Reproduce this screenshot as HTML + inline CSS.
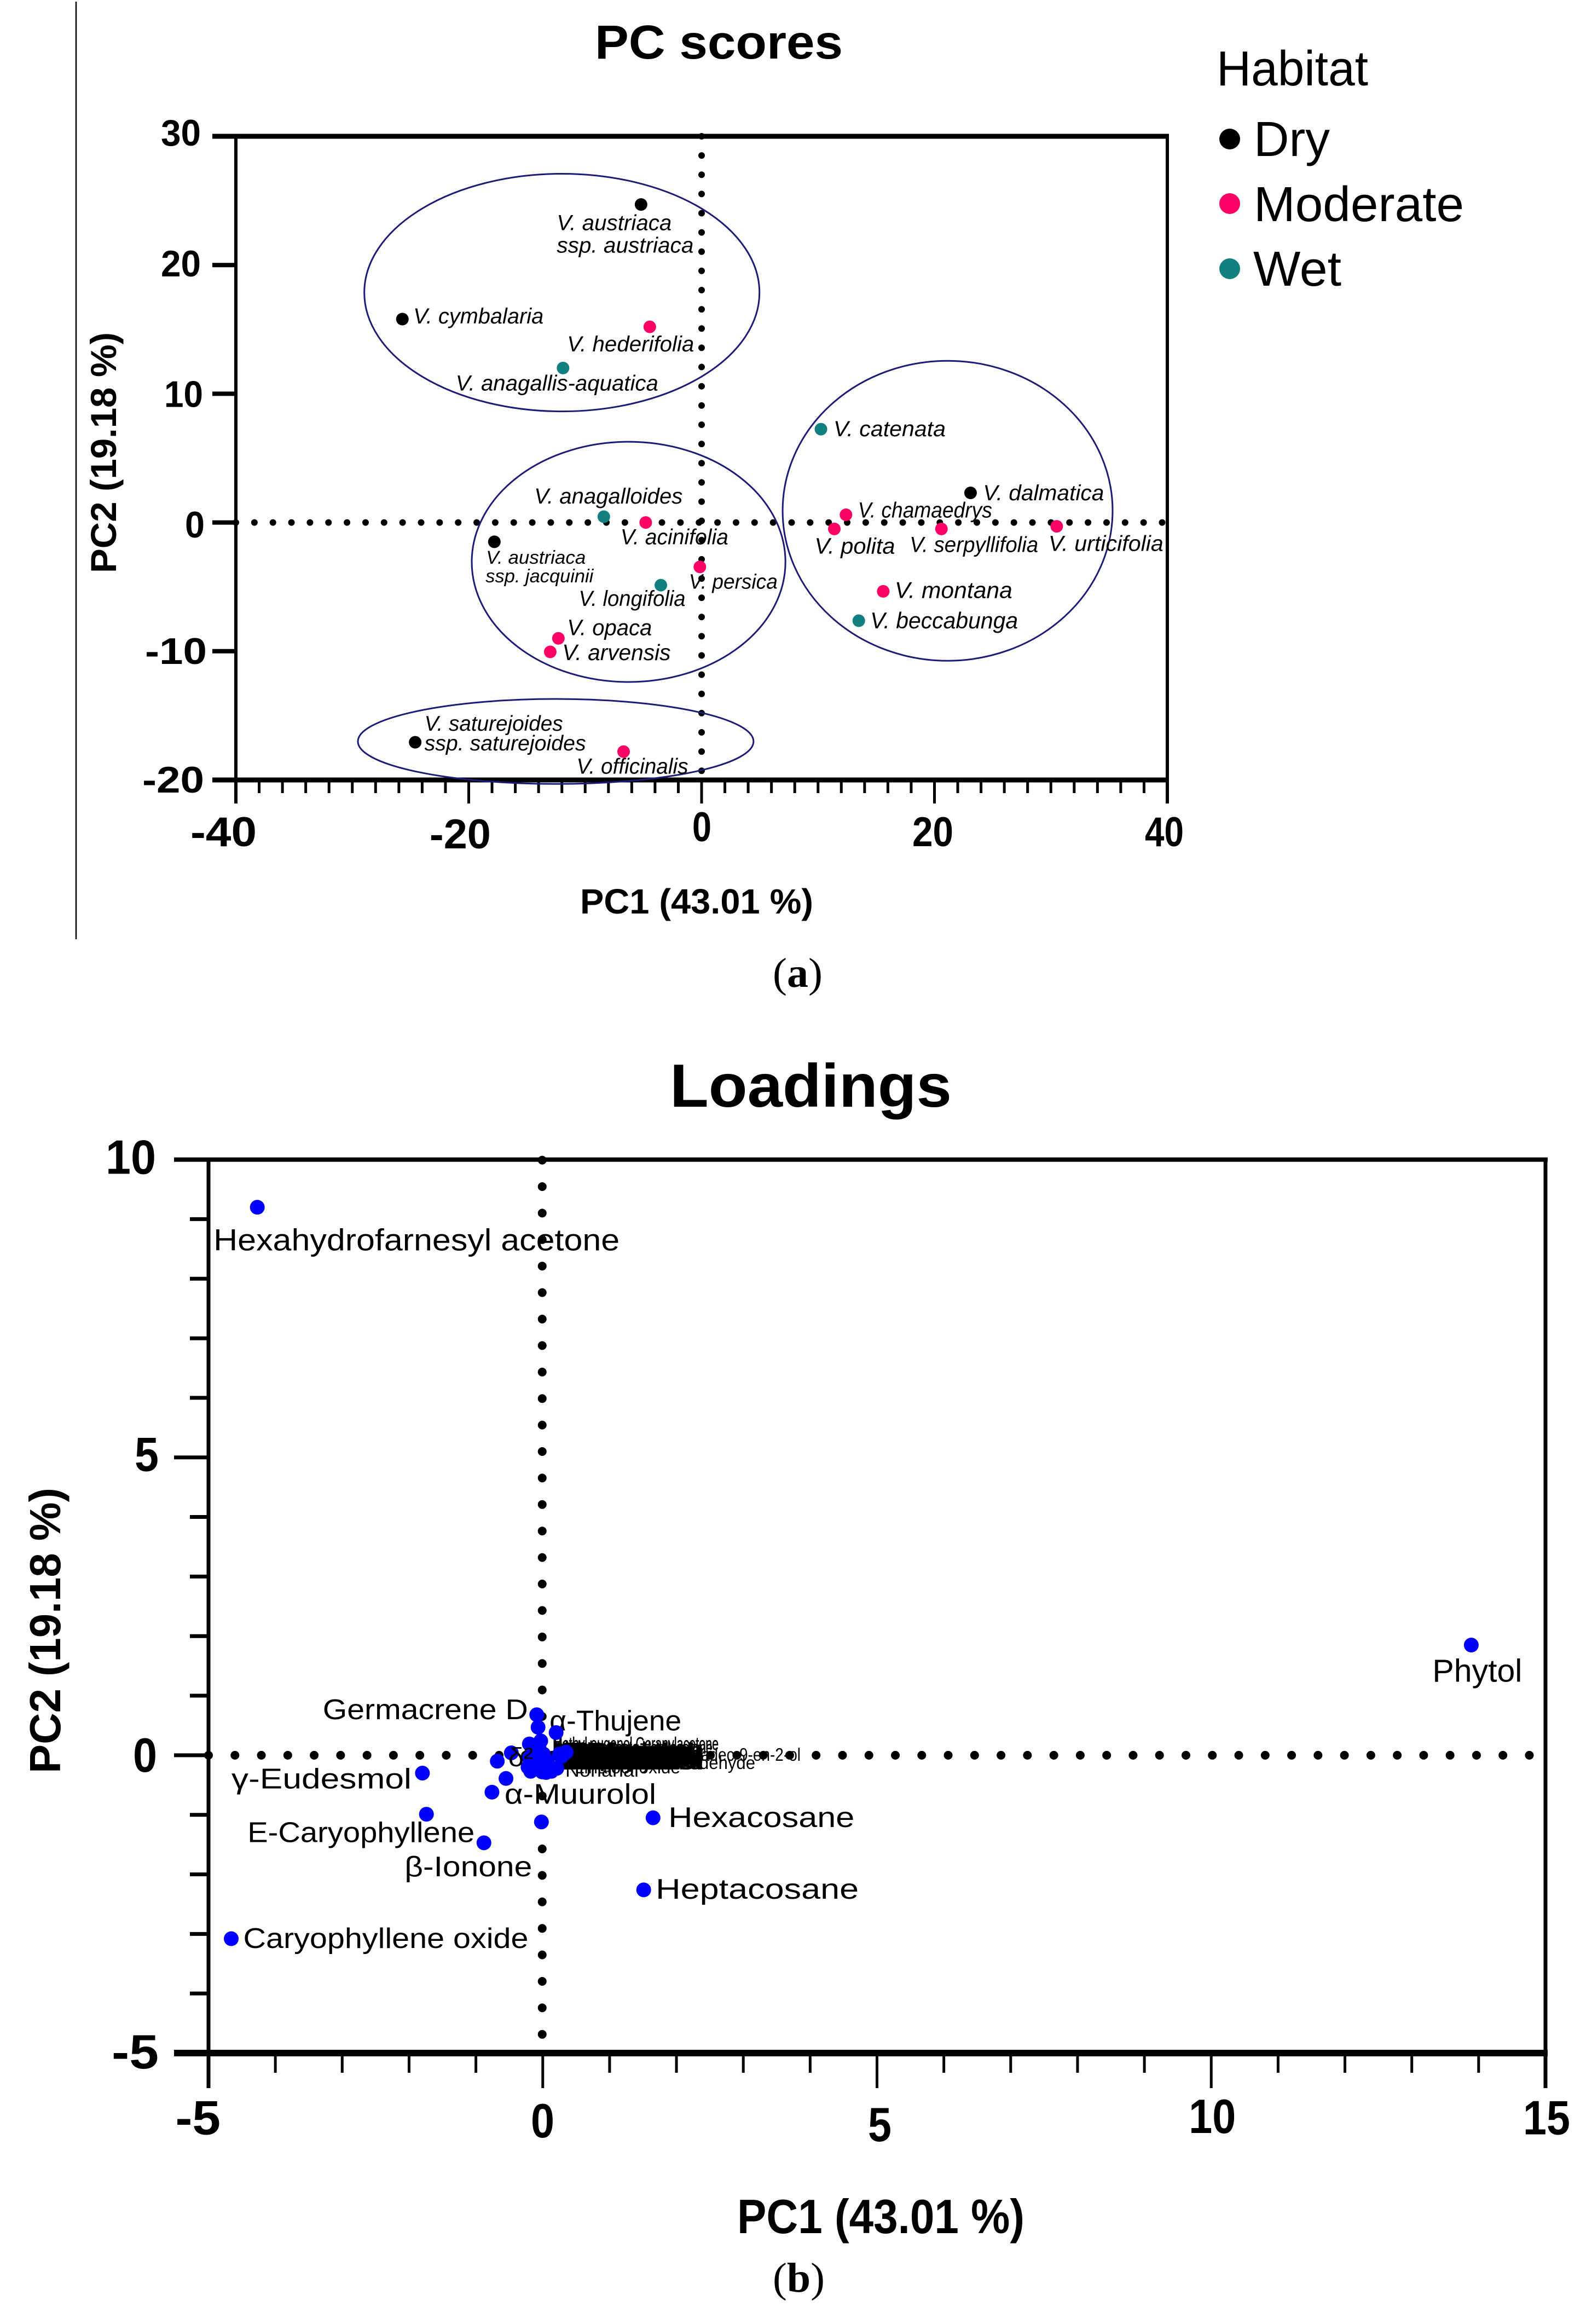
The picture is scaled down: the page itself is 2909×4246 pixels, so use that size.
<!DOCTYPE html>
<html lang="en">
<head>
<meta charset="utf-8">
<title>PC scores and loadings</title>
<style>
html,body{margin:0;padding:0;background:#fff;}
svg{display:block;}
text{font-family:"Liberation Sans",sans-serif;fill:#000;}
.serif{font-family:"Liberation Serif",serif;}
</style>
</head>
<body>
<svg id="figure" xmlns="http://www.w3.org/2000/svg" width="2909" height="4246" viewBox="0 0 2909 4246">
<rect x="0" y="0" width="2909" height="4246" fill="#fff"/>
<line x1="139" y1="3" x2="139" y2="1716" stroke="#000" stroke-width="2.5"/>

<g id="panel-a">
<text x="1087" y="107" font-size="87" font-weight="700" textLength="453" lengthAdjust="spacingAndGlyphs">PC scores</text>
<text x="1060" y="1669" font-size="64" font-weight="700" textLength="426" lengthAdjust="spacingAndGlyphs">PC1 (43.01 %)</text>
<text transform="translate(212 1047) rotate(-90)" x="0" y="0" font-size="66" font-weight="700" textLength="440" lengthAdjust="spacingAndGlyphs">PC2 (19.18 %)</text>
<g>
<text x="2223" y="156" font-size="90" textLength="277" lengthAdjust="spacingAndGlyphs">Habitat</text>
<circle cx="2247" cy="254" r="19" fill="#000"/>
<text x="2291" y="285" font-size="90" textLength="139" lengthAdjust="spacingAndGlyphs">Dry</text>
<circle cx="2247" cy="372" r="19" fill="#ff0066"/>
<text x="2291" y="404" font-size="90" textLength="384" lengthAdjust="spacingAndGlyphs">Moderate</text>
<circle cx="2247" cy="491" r="19" fill="#128080"/>
<text x="2290" y="522" font-size="90" textLength="161" lengthAdjust="spacingAndGlyphs">Wet</text>
</g>
<text class="serif" x="1412" y="1803" font-size="76" textLength="91" lengthAdjust="spacingAndGlyphs">(<tspan font-weight="700">a</tspan>)</text>
</g>

<g id="panel-b">
<text x="1224" y="2022" font-size="111" font-weight="700" textLength="515" lengthAdjust="spacingAndGlyphs">Loadings</text>
<text x="1347" y="4080" font-size="88" font-weight="700" textLength="525" lengthAdjust="spacingAndGlyphs">PC1 (43.01 %)</text>
<text transform="translate(110 3240) rotate(-90)" x="0" y="0" font-size="80" font-weight="700" textLength="522" lengthAdjust="spacingAndGlyphs">PC2 (19.18 %)</text>
<text class="serif" x="1412" y="4187" font-size="76" textLength="95" lengthAdjust="spacingAndGlyphs">(<tspan font-weight="700">b</tspan>)</text>
</g>
</svg>

<script>
// ---------- Panel (a) data ----------
const scoreXTicks = [-40, -20, 0, 20, 40];
const scoreXTickLabels = ['-40', '-20', '0', '20', '40'];
const scoreYTicks = [30, 20, 10, 0, -10, -20];
const scoreYTickLabels = ['30', '20', '10', '0', '-10', '-20'];
const speciesNames = ['V. austriaca ssp. austriaca', 'V. cymbalaria', 'V. hederifolia', 'V. anagallis-aquatica', 'V. catenata', 'V. dalmatica', 'V. chamaedrys', 'V. polita', 'V. serpyllifolia', 'V. urticifolia', 'V. anagalloides', 'V. acinifolia', 'V. austriaca ssp. jacquinii', 'V. persica', 'V. longifolia', 'V. opaca', 'V. arvensis', 'V. montana', 'V. beccabunga', 'V. saturejoides ssp. saturejoides', 'V. officinalis'];
const speciesPC1 = [-5.2, -25.7, -4.45, -11.9, 10.25, 23.1, 12.4, 11.4, 20.6, 30.5, -8.4, -4.8, -17.8, -0.15, -3.5, -12.3, -13, 15.6, 13.5, -24.6, -6.7];
const speciesPC2 = [24.7, 15.8, 15.2, 12, 7.25, 2.3, 0.6, -0.5, -0.5, -0.3, 0.45, 0, -1.5, -3.45, -4.87, -9, -10.05, -5.35, -7.63, -17.07, -17.8];
const speciesHabitat = ['Dry', 'Dry', 'Moderate', 'Wet', 'Wet', 'Dry', 'Moderate', 'Moderate', 'Moderate', 'Moderate', 'Wet', 'Moderate', 'Dry', 'Moderate', 'Wet', 'Moderate', 'Moderate', 'Moderate', 'Wet', 'Dry', 'Moderate'];
const clusterCenterPC1 = [-12, -6.27, 21.13, -12.53];
const clusterCenterPC2 = [17.86, -3.06, 0.91, -17.01];
const clusterRadiusPC1 = [16.97, 13.47, 14.17, 16.99];
const clusterRadiusPC2 = [9.23, 9.33, 11.65, 3.3];

// ---------- Panel (b) data ----------
const loadingXTicks = [-5, 0, 5, 10, 15];
const loadingXTickLabels = ['-5', '0', '5', '10', '15'];
const loadingYTicks = [10, 5, 0, -5];
const loadingYTickLabels = ['10', '5', '0', '-5'];
const namedCompounds = ['Hexahydrofarnesyl acetone', 'Phytol', 'Germacrene D', 'α-Thujene', 'γ-Eudesmol', 'α-Muurolol', 'E-Caryophyllene', 'β-Ionone', 'Hexacosane', 'Heptacosane', 'Caryophyllene oxide'];
const namedPC1 = [-4.27, 13.89, -0.09, 0.2, -1.8, -0.76, -1.74, -0.88, 1.65, 1.51, -4.66];
const namedPC2 = [9.2, 1.85, 0.68, 0.38, -0.3, -0.62, -0.99, -1.47, -1.05, -2.26, -3.08];
const unnamedPC1 = [-0.07, -0.2, -0.47, -0.68, -0.55, -0.02, 0.31, -0.06, -0.13, 0.01, -0.16, -0.03, -0.18, -0.01, 0.13, 0.21, 0.25, 0.35, -0.03, -0.1, -0.04, -0.12, 0.04, 0.07, 0.28, -0.2, -0.22, -0.05, -0.14, 0.05];
const unnamedPC2 = [0.47, 0.19, 0.04, -0.1, -0.39, -1.12, 0.03, 0.14, 0.02, 0.02, -0.13, -0.13, -0.27, -0.28, -0.27, -0.22, 0.02, 0.05, 0.24, 0.08, -0.05, -0.2, -0.2, -0.1, -0.02, -0.05, -0.2, 0.1, 0.12, -0.29];
// Placeholder names: the reference's overlapping labels here are illegible
const crowdedCompounds = ['Methyl eugenol', 'Geranylacetone', 'Linalool oxide', 'Benzaldehyde', 'Terpinen-4-ol', 'α-Terpineol', 'Carvacrol', 'Thymol', 'Eugenol', 'Limonene', 'Myrcene', 'Sabinene', 'Camphene', 'α-Pinene', 'β-Pinene', 'Linalool', 'p-Cymene', 'Spathulenol', 'Viridiflorol', 'δ-Cadinene', 'γ-Cadinene', 'α-Humulene', 'β-Bourbonene', 'α-Copaene', 'α-Cubebene', 'Bicyclogermacrene', 'Octanal', 'Decanal', 'Heptanal', 'Hexanal', 'Pentadecanal', 'Tricosane', 'Pentacosane', 'Nonacosane', 'Docosane', 'Tetracosane', 'Safranal', 'Cuminaldehyde', 'Farnesol', 'Nerolidol', 'Humulene oxide', 'Dodecanal', 'Menthone', 'Pulegone', 'Borneol', 'Elemol', 'Cedrol', 'Ledol'];

// ---------- Layout (not data) ----------
const A = {left: 431, right: 2133, top: 249, bottom: 1425, xMin: -40, xMax: 40, yMin: -20, yMax: 30};
const B = {left: 381, right: 2824, top: 2118.6, bottom: 3751, xMin: -5, xMax: 15, yMin: -5, yMax: 10};
const habitatColor = {Dry: '#000000', Moderate: '#ff0066', Wet: '#128080'};
const scoreXLabelLayout = [[-83, 121, 121], [-71.6, 112, 125], [-17, 35, 112], [-40.5, 75, 121], [-41, 71, 121]];
const scoreYLabelLayout = [[294, 73, 17], [294, 73, 21], [300, 71, 24], [338, 36, 27.5], [265, 113, 23], [260, 113, 23]];
const loadingXLabelLayout = [[-60.5, 82.5, 148.5], [-21.75, 43, 154], [-16.5, 43, 161], [-41, 86, 146], [-41, 86, 148.5]];
const loadingYLabelLayout = [[193, 92, 26], [246, 44, 25], [243, 44, 30], [204, 86, 28]];
const speciesLabelLayout = [
  [['V. austriaca', -153, 47, 210, 40], ['ssp. austriaca', -153, 88, 250, 40]],
  [['V. cymbalaria', 21, 8, 238, 40]],
  [['V. hederifolia', -150, 45, 232, 40]],
  [['V. anagallis-aquatica', -195, 41, 370, 40]],
  [['V. catenata', 24, 13, 205, 40]],
  [['V. dalmatica', 24, 13.5, 221, 40]],
  [['V. chamaedrys', 23, 5, 245, 40]],
  [['V. polita', -35, 45, 147, 41]],
  [['V. serpyllifolia', -57, 42, 235, 40]],
  [['V. urticifolia', -14, 45, 210, 40]],
  [['V. anagalloides', -126, -24, 271, 40]],
  [['V. acinifolia', -45, 40, 197, 40]],
  [['V. austriaca', -14, 40, 182, 34], ['ssp. jacquinii', -15, 74, 197, 34]],
  [['V. persica', -19, 40, 162, 38]],
  [['V. longifolia', -149, 38, 195, 40]],
  [['V. opaca', 17, -6, 155, 41]],
  [['V. arvensis', 23, 15, 198, 41]],
  [['V. montana', 22, 12, 215, 42]],
  [['V. beccabunga', 22, 14, 270, 42]],
  [['V. saturejoides', 18, -21, 253, 39], ['ssp. saturejoides', 18, 15, 295, 39]],
  [['V. officinalis', -85, 40, 204, 40]]
];
const namedLabelLayout = [[-80, 79, 742, 56], [-71, 67, 164, 58], [-391, 8, 375, 52], [-12, -4, 241, 52], [-349, 28, 329, 52], [23, 21, 277, 52], [-327, 51, 415, 52], [-145, 61, 233, 52], [28, 17, 340, 52], [22, 16, 371, 52], [22, 17, 521, 52]];

const SVGNS = 'http://www.w3.org/2000/svg';
function el(tag, attrs, parent) {
  const node = document.createElementNS(SVGNS, tag);
  for (const k in attrs) node.setAttribute(k, attrs[k]);
  parent.appendChild(node);
  return node;
}
function text(str, x, y, size, width, parent, extra) {
  const attrs = Object.assign({x: x, y: y, 'font-size': size}, extra || {});
  if (width) { attrs.textLength = width; attrs.lengthAdjust = 'spacingAndGlyphs'; }
  const node = el('text', attrs, parent);
  node.textContent = str;
  return node;
}
function scaleX(p, v) { return p.left + (v - p.xMin) / (p.xMax - p.xMin) * (p.right - p.left); }
function scaleY(p, v) { return p.bottom - (v - p.yMin) / (p.yMax - p.yMin) * (p.bottom - p.top); }

// ---------- Panel (a) ----------
const panelA = document.getElementById('panel-a');
const aAxes = el('g', {}, panelA);



for (let v = A.xMin; v <= A.xMax; v += 2) {
  const isMajor = scoreXTicks.indexOf(v) >= 0;
  const t = el('line', {x1: scaleX(A, v), x2: scaleX(A, v), y1: A.bottom, y2: A.bottom + (isMajor ? 43 : 24), stroke: '#000', 'stroke-width': 5}, aAxes);
  
  
}
scoreYTicks.forEach(function (v) {
  const t = el('line', {x1: A.left - 43, x2: A.left, y1: scaleY(A, v), y2: scaleY(A, v), stroke: '#000', 'stroke-width': 8}, aAxes);
  
  
});
const aZeroH = el('line', {x1: A.left, x2: A.right, y1: scaleY(A, 0), y2: scaleY(A, 0), stroke: '#000', 'stroke-width': 12, 'stroke-linecap': 'round', 'stroke-dasharray': '0 33.85'}, aAxes);


const aZeroV = el('line', {x1: scaleX(A, 0), x2: scaleX(A, 0), y1: A.top, y2: A.bottom, stroke: '#000', 'stroke-width': 12, 'stroke-linecap': 'round', 'stroke-dasharray': '0 35.13'}, aAxes);


const aTop = el('line', {x1: A.left - 43, x2: A.right + 3, y1: A.top, y2: A.top, stroke: '#000', 'stroke-width': 9}, aAxes);


const aBottom = el('line', {x1: A.left - 43, x2: A.right + 3, y1: A.bottom, y2: A.bottom, stroke: '#000', 'stroke-width': 9}, aAxes);


const aLeft = el('line', {x1: A.left, x2: A.left, y1: A.top, y2: A.bottom + 43, stroke: '#000', 'stroke-width': 6}, aAxes);


const aRight = el('line', {x1: A.right, x2: A.right, y1: A.top, y2: A.bottom + 43, stroke: '#000', 'stroke-width': 6}, aAxes);



scoreXTickLabels.forEach(function (s, i) {
  const l = scoreXLabelLayout[i];
  const t = text(s, scaleX(A, scoreXTicks[i]) + l[0], A.bottom + l[2], 76, l[1], aAxes, {'font-weight': 700});
  
  
});
scoreYTickLabels.forEach(function (s, i) {
  const l = scoreYLabelLayout[i];
  const t = text(s, l[0], scaleY(A, scoreYTicks[i]) + l[2], 68, l[1], aAxes, {'font-weight': 700});
  
  
});

clusterCenterPC1.forEach(function (cx, i) {
  const e = el('ellipse', {
    cx: scaleX(A, cx), cy: scaleY(A, clusterCenterPC2[i]),
    rx: scaleX(A, clusterRadiusPC1[i]) - scaleX(A, 0),
    ry: scaleY(A, 0) - scaleY(A, clusterRadiusPC2[i]),
    fill: 'none', stroke: '#1c1c78', 'stroke-width': 3
  }, panelA);
  
  
});

speciesNames.forEach(function (name, i) {
  const px = scaleX(A, speciesPC1[i]);
  const py = scaleY(A, speciesPC2[i]);
  speciesLabelLayout[i].forEach(function (l) {
    const t = text(l[0], px + l[1] - 1, py + l[2], l[4], l[3], panelA, {'font-style': 'italic'});
    
    
  });
  const c = el('circle', {cx: px, cy: py, r: 11.5, fill: habitatColor[speciesHabitat[i]]}, panelA);
  
  
});

// ---------- Panel (b) ----------
const panelB = document.getElementById('panel-b');
const bAxes = el('g', {}, panelB);



for (let v = B.xMin; v <= B.xMax; v += 1) {
  const isMajor = loadingXTicks.indexOf(v) >= 0;
  const t = el('line', {x1: scaleX(B, v), x2: scaleX(B, v), y1: B.bottom, y2: B.bottom + (isMajor ? 64 : 36), stroke: '#000', 'stroke-width': 5}, bAxes);
  
  
}
for (let v = B.yMin; v <= B.yMax; v += 1) {
  const isMajor = loadingYTicks.indexOf(v) >= 0;
  const t = el('line', {x1: B.left - (isMajor ? 63 : 34), x2: B.left, y1: scaleY(B, v), y2: scaleY(B, v), stroke: '#000', 'stroke-width': 7}, bAxes);
  
  
}
const bZeroH = el('line', {x1: B.left, x2: B.left + 48.27 * 50 + 1, y1: scaleY(B, 0), y2: scaleY(B, 0), stroke: '#000', 'stroke-width': 16, 'stroke-linecap': 'round', 'stroke-dasharray': '0 48.27'}, bAxes);


const bZeroV = el('line', {x1: scaleX(B, 0) - 1, x2: scaleX(B, 0) - 1, y1: B.top + 1, y2: B.top + 2 + 48.4 * 33, stroke: '#000', 'stroke-width': 16, 'stroke-linecap': 'round', 'stroke-dasharray': '0 48.4'}, bAxes);


const bTop = el('line', {x1: B.left - 63, x2: B.right + 4, y1: B.top, y2: B.top, stroke: '#000', 'stroke-width': 8}, bAxes);


const bBottom = el('line', {x1: B.left - 63, x2: B.right + 4, y1: B.bottom, y2: B.bottom, stroke: '#000', 'stroke-width': 12}, bAxes);


const bLeft = el('line', {x1: B.left, x2: B.left, y1: B.top, y2: B.bottom + 64, stroke: '#000', 'stroke-width': 7}, bAxes);


const bRight = el('line', {x1: B.right, x2: B.right, y1: B.top, y2: B.bottom + 64, stroke: '#000', 'stroke-width': 7}, bAxes);



loadingXTickLabels.forEach(function (s, i) {
  const l = loadingXLabelLayout[i];
  const t = text(s, scaleX(B, loadingXTicks[i]) + l[0], B.bottom + l[2], 88, l[1], bAxes, {'font-weight': 700});
  
  
});
loadingYTickLabels.forEach(function (s, i) {
  const l = loadingYLabelLayout[i];
  const t = text(s, l[0], scaleY(B, loadingYTicks[i]) + l[2], 88, l[1], bAxes, {'font-weight': 700});
  
  
});

// Overlapping small labels beside the crowded centre of the plot: they pile into a solid dark band
crowdedCompounds.forEach(function (name, i) {
  const start = 1014 + (i % 4) * 8;
  const end = 1205 + (i % 6) * 16;
  const t = text(name, start, 3208 + (i % 7) * 4, 33, end - start, panelB, {stroke: '#000', 'stroke-width': 1.6});
  
  
});
const longA = text('Methyl eugenol  Geranylacetone', 1010, 3197, 33, 303, panelB, {stroke: '#000', 'stroke-width': 0.6});


const longF = text('Ethyl cinnamate  Nerylacetone', 1012, 3204, 33, 290, panelB, {stroke: '#000', 'stroke-width': 0.6});


const longB = text('Phytol isomer Octadec-9-en-2-ol', 1060, 3217, 33, 403, panelB);


const longC = text('Phenylacetaldehyde', 1100, 3232, 33, 280, panelB);


const longD = text('Linalool oxide', 1050, 3240, 32, 193, panelB);


const longE = text('Nonanal', 1033, 3246, 33, 134, panelB);



unnamedPC1.forEach(function (x, i) {
  const c = el('circle', {cx: scaleX(B, x), cy: scaleY(B, unnamedPC2[i]), r: 13.5, fill: '#0000ff'}, panelB);
  
  
});
const fragment = text('δ²', 929, 3227, 48, 45, panelB);



namedCompounds.forEach(function (name, i) {
  const px = scaleX(B, namedPC1[i]);
  const py = scaleY(B, namedPC2[i]);
  const l = namedLabelLayout[i];
  const t = text(name, px + l[0], py + l[1], l[3], l[2], panelB);
  
  
  const c = el('circle', {cx: px, cy: py, r: 13.5, fill: '#0000ff'}, panelB);
  
  
});
</script>
</body>
</html>
